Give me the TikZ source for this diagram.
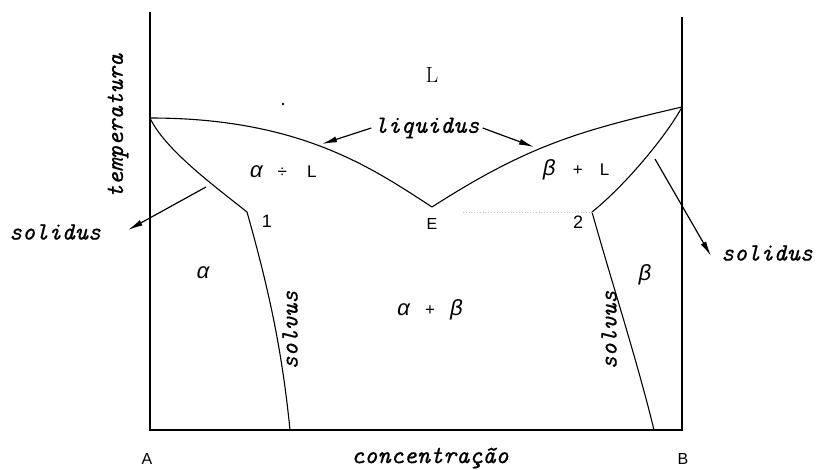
\documentclass[tikz,border=0pt]{standalone}
\usepackage{fontspec}
\usetikzlibrary{arrows.meta}
\newfontfamily\twf{Liberation Mono}
\newfontfamily\sanf{Liberation Sans}
\newfontfamily\lmi{lmmono10-italic.otf}[FakeBold=0.5]
\begin{document}
\begin{tikzpicture}[x=1pt,y=-1pt,
  curve/.style={line width=1.1pt},
  ax/.style={line width=1.1pt},
  arr/.style={line width=1.2pt,-{Latex[length=15pt,width=6pt]}},
  lbl/.style={font=\lmi\fontsize{25}{25}\selectfont, inner sep=0pt},
  gk/.style={font=\twf\itshape\fontsize{22}{22}\selectfont, inner sep=0pt},
  sm/.style={font=\sanf\fontsize{16}{16}\selectfont, inner sep=0pt}
]
\useasboundingbox (0,0) rectangle (824,469);
% axes and key points
\coordinate (tA) at (150,12);
\coordinate (oA) at (150,430);
\coordinate (tB) at (682,17);
\coordinate (oB) at (682,430);
\coordinate (mA) at (150,118);
\coordinate (mB) at (682,107);
\coordinate (E) at (432,207);
\coordinate (p1) at (247,212);
\coordinate (p2) at (592,212);
\coordinate (s1) at (290,430);
\coordinate (s2) at (654,430);
\coordinate (dl) at (463,212);
\draw[ax] (tA) -- (oA) -- (oB) -- (tB);
% liquidus
\draw[curve] (mA) .. controls (300,118) and (372,168) .. (E);
\draw[curve] (E) .. controls (527,146) and (578,131) .. (mB);
% solidus
\draw[curve] (mA) .. controls (165,150) and (217,188) .. (p1);
\draw[curve] (mB) .. controls (668,133) and (628,183) .. (p2);
% solvus
\draw[curve] (p1) .. controls (269,290) and (282,350) .. (s1);
\draw[curve] (p2) .. controls (611.6,282) and (637,360) .. (s2);
% faint eutectic line
\draw[gray!45, dotted, line width=0.8pt] (dl) -- (p2);
% speck
\fill (283,104) circle (1.3);
% labels
\node[lbl, rotate=90] (temp) at (118,126) {temperatura};
\node[lbl] (solL) at (55,232) {solidus};
\node[lbl] (solR) at (767,253) {solidus};
\node[lbl] (liq) at (427,128) {liquidus};
\node[lbl] (conc) at (430,458) {concentração};
\node[lbl, rotate=90] (solv1) at (290,330) {solvus};
\node[lbl, rotate=90] (solv2) at (609,330) {solvus};
\node[gk] (alpha) at (203,273) {α};
\node[gk] (beta) at (645,275) {β};
\node[inner sep=0pt] (aL) at (283,172) {{\twf\itshape\fontsize{22}{22}\selectfont α}\hspace{15pt}{\sanf\fontsize{17}{17}\selectfont ÷}\hspace{20pt}{\sanf\fontsize{17}{17}\selectfont L}};
\node[inner sep=0pt] (bL) at (576,170) {{\twf\itshape\fontsize{22}{22}\selectfont β}\hspace{17pt}{\sanf\fontsize{17}{17}\selectfont +}\hspace{17pt}{\sanf\fontsize{17}{17}\selectfont L}};
\node[inner sep=0pt] (ab) at (430,310) {{\twf\itshape\fontsize{22}{22}\selectfont α}\hspace{15pt}{\sanf\fontsize{17}{17}\selectfont +}\hspace{15pt}{\twf\itshape\fontsize{22}{22}\selectfont β}};
\node[font=\fontsize{22}{22}\selectfont, inner sep=0pt] (Lq) at (432,75) {L};
\node[sm, font=\sanf\fontsize{18}{18}\selectfont] (n1) at (267,221) {1};
\node[sm, font=\sanf\fontsize{18}{18}\selectfont] (n2) at (578,222) {2};
\node[sm] (nE) at (432,224) {E};
\node[sm] (nA) at (147,459) {A};
\node[sm] (nB) at (683,459) {B};
% arrows
\coordinate (aL1) at (206,187);
\coordinate (tL1) at (128,230);
\coordinate (aR1) at (655,159);
\coordinate (tR1) at (711,256);
\coordinate (tq1) at (322,144);
\coordinate (tq2) at (534,147);
\draw[arr] (aL1) -- (tL1);
\draw[arr] (aR1) -- (tR1);
\draw[arr] ([xshift=-3pt]liq.west) -- (tq1);
\draw[arr] ([xshift=3pt]liq.east) -- (tq2);
\end{tikzpicture}
\end{document}
